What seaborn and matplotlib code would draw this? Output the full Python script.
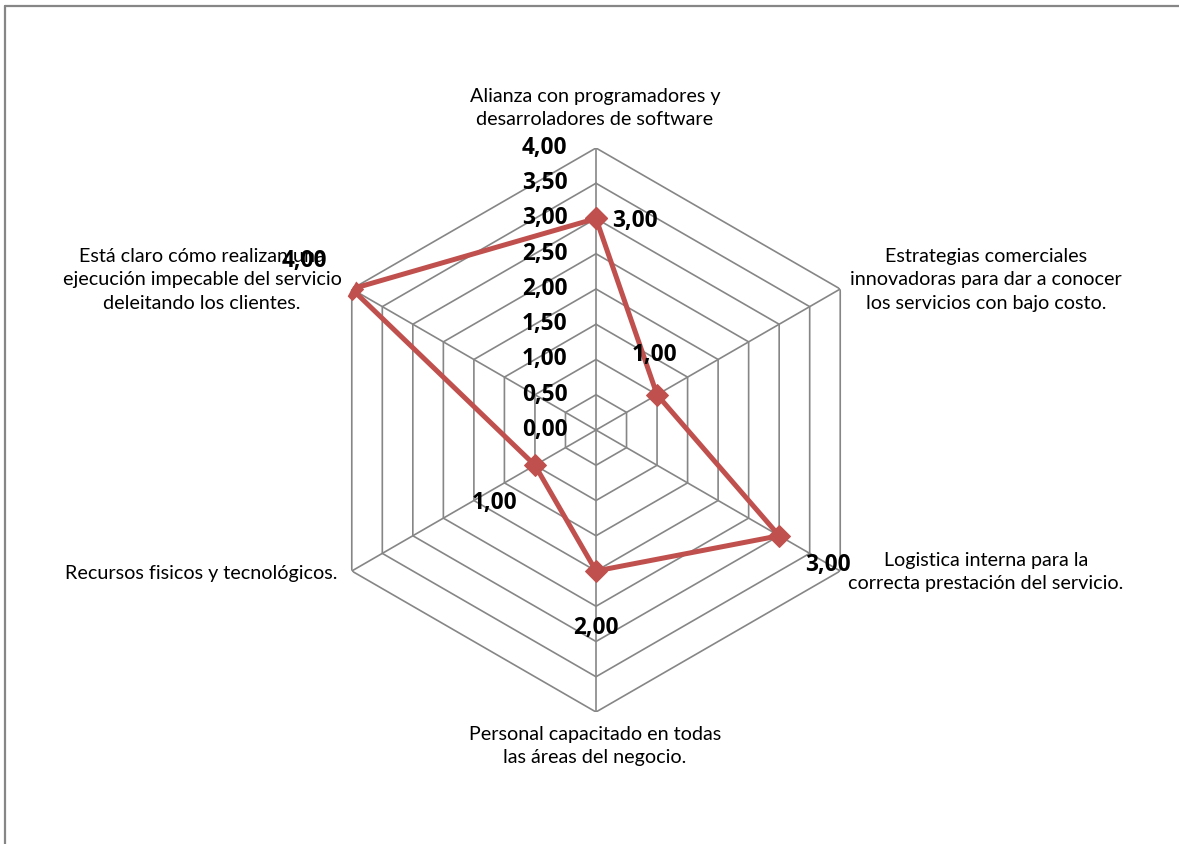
import numpy as np
import matplotlib
matplotlib.use("Agg")
import matplotlib.pyplot as plt
from matplotlib.lines import Line2D
import seaborn as sns

# ---- data ----
categories = [
    "Alianza con programadores y\ndesarroladores de software",
    "Estrategias comerciales\ninnovadoras para dar a conocer\nlos servicios con bajo costo.",
    "Logistica interna para la\ncorrecta prestación del servicio.",
    "Personal capacitado en todas\nlas áreas del negocio.",
    "Recursos fisicos y tecnológicos.",
    "Está claro cómo realizan una\nejecución impecable del servicio\ndeleitando los clientes.",
]
values = [3.0, 1.0, 3.0, 2.0, 1.0, 4.0]
tick_values = [0.0, 0.5, 1.0, 1.5, 2.0, 2.5, 3.0, 3.5, 4.0]
tick_labels = ["0,00", "0,50", "1,00", "1,50", "2,00", "2,50", "3,00", "3,50", "4,00"]
value_labels = ["3,00", "1,00", "3,00", "2,00", "1,00", "4,00"]

# ---- style ----
sns.set_style("white")
plt.rcParams["font.family"] = ["Lato", "DejaVu Sans"]
BOLD_FAMILY = ["Open Sans", "DejaVu Sans"]

W, H = 1179, 844
fig = plt.figure(figsize=(W / 100, H / 100), dpi=100)
cx, cy, R = 596, 430, 282
ax = fig.add_axes([(cx - R) / W, (H - cy - R) / H, 2 * R / W, 2 * R / H], projection="polar")
ax.set_theta_zero_location("N")
ax.set_theta_direction(-1)
ax.set_ylim(0, 4)
ax.grid(False)
ax.spines["polar"].set_visible(False)
ax.set_xticks([])
ax.set_yticks([])
ax.patch.set_alpha(0)

n = len(categories)
theta = np.linspace(0, 2 * np.pi, n, endpoint=False)
theta_closed = np.append(theta, theta[0])

grid_color = "#868686"
# hexagonal rings
for lv in tick_values[1:]:
    ax.plot(theta_closed, [lv] * (n + 1), color=grid_color, lw=1.2, zorder=1)
# spokes
for t in theta:
    ax.plot([t, t], [0, 4], color=grid_color, lw=1.2, zorder=1)

# data series
vals_closed = values + [values[0]]
sns.lineplot(x=theta_closed, y=vals_closed, ax=ax, sort=False, estimator=None,
             color="#C0504D", linewidth=3.6, marker="D", markersize=11,
             markeredgecolor="#C0504D", zorder=3)
ax.set_xlabel("")
ax.set_ylabel("")
ax.set_ylim(0, 4)

# radial tick labels
for v, lab in zip(tick_values, tick_labels):
    ax.annotate(lab, xy=(0, v), xytext=(-20.5, 0), textcoords="offset points",
                ha="right", va="center", fontsize=16.3, fontweight="bold", color="black",
                family=BOLD_FAMILY, zorder=4)

# data labels (offsets in px: right, down)
label_offsets_px = [(39, 3), (-3, -40), (49, 29), (0, 57), (-40, 38), (-47, -28)]
for t, v, lab, (dx, dy) in zip(theta, values, value_labels, label_offsets_px):
    ax.annotate(lab, xy=(t, v), xytext=(dx * 0.72, -dy * 0.72), textcoords="offset points",
                ha="center", va="center", fontsize=16.3, fontweight="bold", color="black",
                family=BOLD_FAMILY, zorder=5)

# category labels (center x, center y in px)
cat_pos = [(595, 108), (986, 280), (986, 572), (595, 746), (201, 573), (202, 280)]
for lab, (x, y) in zip(categories, cat_pos):
    fig.text(x / W, 1 - y / H, lab, ha="center", va="center", fontsize=14.2,
             linespacing=1.45, color="black", multialignment="center")

# outer border (top and left visible)
fig.add_artist(Line2D([5 / W, 1], [1 - 6 / H, 1 - 6 / H], color=grid_color, lw=1.6,
                      transform=fig.transFigure))
fig.add_artist(Line2D([5 / W, 5 / W], [0, 1 - 6 / H], color=grid_color, lw=1.6,
                      transform=fig.transFigure))

fig.savefig("out.png", dpi=100, facecolor="white")
